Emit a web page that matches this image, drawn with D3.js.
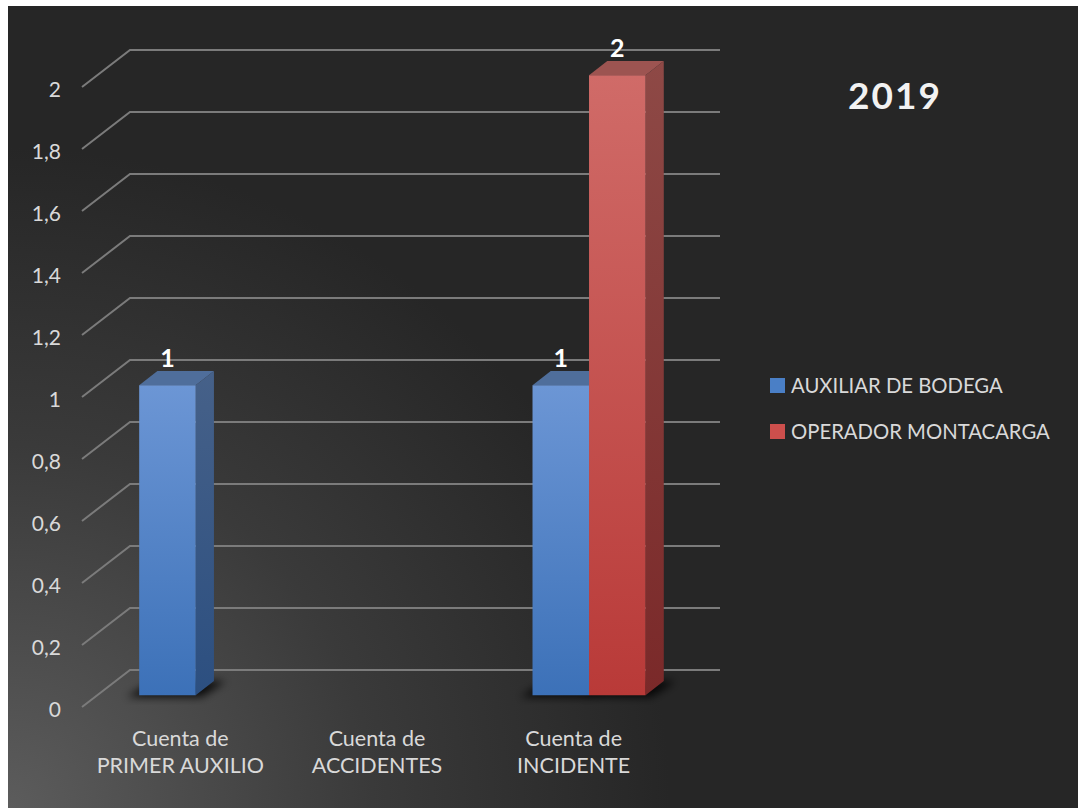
<!DOCTYPE html>
<html>
<head>
<meta charset="utf-8">
<script src="https://cdn.jsdelivr.net/npm/d3@7"></script>
<style>
  html, body { margin: 0; padding: 0; background: #ffffff; }
  svg { display: block; }
  text { font-family: Lato, "Open Sans", sans-serif; }
</style>
</head>
<body>
<svg id="chart" width="1078" height="808"></svg>
<script>
// Category labels (two lines each), series, values
const categories = ["Cuenta de PRIMER AUXILIO", "Cuenta de ACCIDENTES", "Cuenta de INCIDENTE"];
const categoryLines = [["Cuenta de", "PRIMER AUXILIO"], ["Cuenta de", "ACCIDENTES"], ["Cuenta de", "INCIDENTE"]];
const seriesNames = ["AUXILIAR DE BODEGA", "OPERADOR MONTACARGA"];
const auxiliarValues = [1, null, 1];
const operadorValues = [null, null, 2];
const yTicks = [0, 0.2, 0.4, 0.6, 0.8, 1, 1.2, 1.4, 1.6, 1.8, 2];
const chartTitle = "2019";

const seriesValues = [auxiliarValues, operadorValues];

const svg = d3.select("#chart");
const defs = svg.append("defs");

// Background with soft light from lower-left corner
const bg = defs.append("radialGradient").attr("id", "bgGrad")
  .attr("gradientUnits", "userSpaceOnUse")
  .attr("cx", 10).attr("cy", 808).attr("r", 660);
bg.append("stop").attr("offset", 0).attr("stop-color", "#5c5c5c");
bg.append("stop").attr("offset", 0.55).attr("stop-color", "#3a3a3a");
bg.append("stop").attr("offset", 1).attr("stop-color", "#262626");
svg.append("rect").attr("x", 8).attr("y", 6).attr("width", 1070).attr("height", 802)
  .attr("fill", "url(#bgGrad)");

// Face colours per series
const palettes = [
  { front: ["#6c96d5", "#3c71b8"], side: ["#466189", "#2c4f80"], top: "#4f6e9b", key: "#4a7fc6" },
  { front: ["#d06b68", "#b93a38"], side: ["#8e4946", "#7a2929"], top: "#9d5451", key: "#cd4f4c" }
];
palettes.forEach((p, i) => {
  const gf = defs.append("linearGradient").attr("id", "front" + i)
    .attr("x1", 0).attr("y1", 0).attr("x2", 0).attr("y2", 1);
  gf.append("stop").attr("offset", 0).attr("stop-color", p.front[0]);
  gf.append("stop").attr("offset", 1).attr("stop-color", p.front[1]);
  const gs = defs.append("linearGradient").attr("id", "side" + i)
    .attr("x1", 0).attr("y1", 0).attr("x2", 0).attr("y2", 1);
  gs.append("stop").attr("offset", 0).attr("stop-color", p.side[0]);
  gs.append("stop").attr("offset", 1).attr("stop-color", p.side[1]);
});
defs.append("filter").attr("id", "shadowBlur")
  .attr("x", "-50%").attr("y", "-50%").attr("width", "200%").attr("height", "200%")
  .append("feGaussianBlur").attr("stdDeviation", 4);

// Scales and oblique depth projection
const yScale = d3.scaleLinear().domain([0, 2]).range([707, 87]);
const x0 = d3.scaleBand().domain(categories).range([82, 672]);
const x1 = d3.scaleBand().domain(seriesNames).range([0, x0.bandwidth()]).paddingOuter(0.74);
const DX = 48, DY = -37;
const zFront = 0.32, zBack = 0.70;
const proj = (x, v, z) => [x + DX * z, yScale(v) + DY * z];
const poly = pts => pts.map(p => p.join(",")).join(" ");

// Gridlines: diagonal on the side wall, then flat along the back wall
const grid = svg.append("g").attr("fill", "none").attr("stroke", "#7b7b7b").attr("stroke-width", 2);
grid.selectAll("polyline").data(yTicks).join("polyline")
  .attr("points", d => {
    const a = proj(x0.range()[0], d, 0);
    const b = proj(x0.range()[0], d, 1);
    const c = proj(720 - DX, d, 1);
    return poly([a, b, c]);
  });

// Y axis labels
const fmt = d3.formatLocale({ decimal: ",", thousands: ".", grouping: [3], currency: ["", ""] }).format(".1~f");
const yAxis = d3.axisLeft(yScale).tickValues(yTicks).tickFormat(fmt).tickSize(0).tickPadding(0);
const yAxisG = svg.append("g").attr("transform", "translate(61,3)").call(yAxis);
yAxisG.select(".domain").remove();
yAxisG.selectAll("text").attr("fill", "#d9d9d9").style("font-size", "21px")
  .style("font-family", "Lato, 'Open Sans', sans-serif");

// Bars
const bars = [];
seriesValues.forEach((vals, si) => {
  vals.forEach((v, ci) => {
    if (v == null) return;
    bars.push({ si, ci, v, xl: x0(categories[ci]) + x1(seriesNames[si]), w: x1.bandwidth() });
  });
});
bars.sort((a, b) => a.ci - b.ci || a.si - b.si);

const shadows = svg.append("g").attr("filter", "url(#shadowBlur)");
shadows.selectAll("polygon").data(bars).join("polygon")
  .attr("fill", "#000").attr("opacity", 0.85)
  .attr("points", d => {
    const xl = d.xl - 10, xr = d.xl + d.w + 8;
    return poly([proj(xl, 0, zFront - 0.05), proj(xr, 0, zFront - 0.05), proj(xr + 4, 0, zBack), proj(xl + 6, 0, zBack)]);
  });

const barG = svg.append("g").selectAll("g").data(bars).join("g");
barG.append("polygon").attr("fill", d => palettes[d.si].top)
  .attr("points", d => {
    const xr = d.xl + d.w;
    return poly([proj(d.xl, d.v, zFront), proj(xr, d.v, zFront), proj(xr, d.v, zBack), proj(d.xl, d.v, zBack)]);
  });
barG.append("polygon").attr("fill", d => `url(#side${d.si})`)
  .attr("points", d => {
    const xr = d.xl + d.w;
    return poly([proj(xr, 0, zFront), proj(xr, 0, zBack), proj(xr, d.v, zBack), proj(xr, d.v, zFront)]);
  });
barG.append("polygon").attr("fill", d => `url(#front${d.si})`)
  .attr("points", d => {
    const xr = d.xl + d.w;
    return poly([proj(d.xl, 0, zFront), proj(xr, 0, zFront), proj(xr, d.v, zFront), proj(d.xl, d.v, zFront)]);
  });

// Value labels
svg.append("g").selectAll("text").data(bars).join("text")
  .attr("x", d => proj(d.xl + d.w / 2, d.v, zFront)[0])
  .attr("y", d => proj(0, d.v, zBack)[1] - 4)
  .attr("text-anchor", "middle")
  .attr("fill", "#ffffff").style("font-size", "25px").style("font-weight", 700)
  .text(d => d.v);

// Category labels
const catG = svg.append("g").selectAll("text").data(categories).join("text")
  .attr("text-anchor", "middle").attr("fill", "#d9d9d9").style("font-size", "21.5px")
  .attr("transform", d => `translate(${x0(d) + x0.bandwidth() / 2},0)`);
catG.selectAll("tspan").data((d, i) => categoryLines[i]).join("tspan")
  .attr("x", 0).attr("y", (d, i) => 746 + i * 27).text(d => d);

// Title
svg.append("text").attr("x", 895).attr("y", 109).attr("text-anchor", "middle")
  .attr("fill", "#f2f2f2").style("font-size", "37px").style("font-weight", 700)
  .style("letter-spacing", "2px").text(chartTitle);

// Legend
const legend = svg.append("g").selectAll("g").data(seriesNames).join("g")
  .attr("transform", (d, i) => `translate(770,${378 + i * 46})`);
legend.append("rect").attr("width", 15).attr("height", 15)
  .attr("fill", (d, i) => palettes[i].key);
legend.append("text").attr("x", 21).attr("y", 15).attr("fill", "#d9d9d9")
  .style("font-size", "20.3px").text(d => d);
</script>
</body>
</html>
